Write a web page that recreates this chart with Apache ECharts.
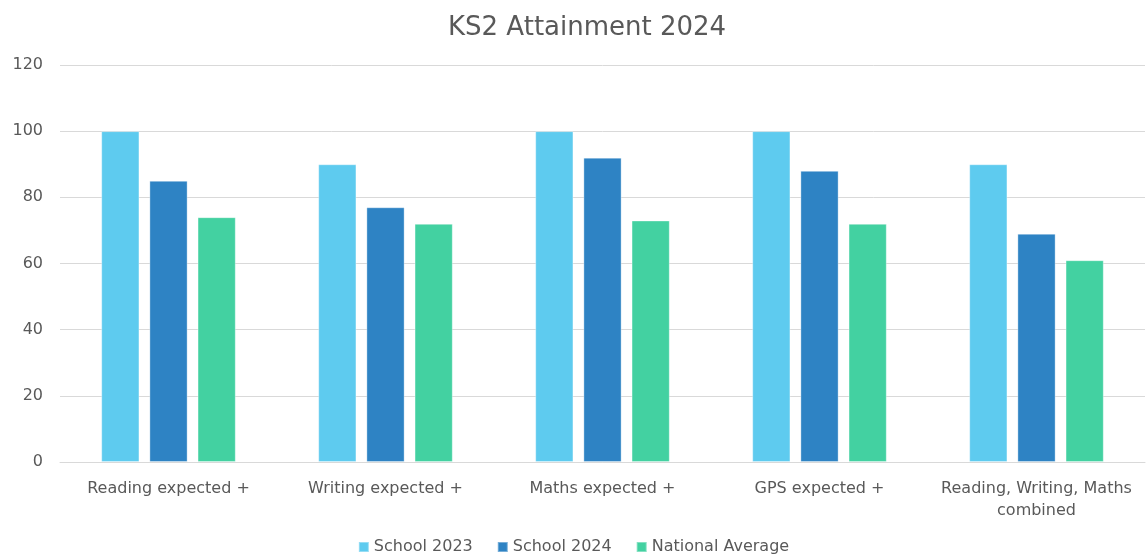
<!DOCTYPE html>
<html>
<head>
<meta charset="utf-8">
<title>KS2 Attainment 2024</title>
<script src="https://cdn.jsdelivr.net/npm/echarts@6/dist/echarts.min.js"></script>
<style>
  html, body { margin: 0; padding: 0; background: #fff; }
  #main { width: 1147px; height: 558px; }
</style>
</head>
<body>
<div id="main"></div>
<script>
// data
var categories = ['Reading expected +', 'Writing expected +', 'Maths expected +', 'GPS expected +', 'Reading, Writing, Maths\ncombined'];
var school2023 = [100, 90, 100, 100, 90];
var school2024 = [85, 77, 92, 88, 69];
var nationalAvg = [74, 72, 73, 72, 61];
var seriesNames = ['School 2023', 'School 2024', 'National Average'];
var colors = ['#5ECBEF', '#2E83C4', '#43D1A1'];

var font = 'DejaVu Sans';
var grey = '#595959';

var chart = echarts.init(document.getElementById('main'));

function bar(name, data, color) {
  return {
    name: name,
    type: 'bar',
    data: data,
    barGap: '26%',
    barCategoryGap: '38%',
    itemStyle: { color: color, borderColor: 'rgba(255,255,255,0.35)', borderWidth: 1 }
  };
}

chart.setOption({
  animation: false,
  color: colors,
  title: {
    text: 'KS2 Attainment 2024',
    left: 443,
    top: 10,
    textStyle: { fontFamily: font, fontSize: 26, fontWeight: 'normal', color: grey }
  },
  legend: {
    bottom: -2,
    left: 'center',
    icon: 'rect',
    itemWidth: 10,
    itemHeight: 10,
    itemGap: 24,
    textStyle: { fontFamily: font, fontSize: 16, color: grey }
  },
  grid: { left: 60, right: 2, top: 65, bottom: 96, containLabel: false },
  xAxis: {
    type: 'category',
    data: categories,
    axisLine: { lineStyle: { color: '#d9d9d9', width: 1 } },
    axisTick: { show: false },
    axisLabel: { fontFamily: font, fontSize: 16, color: grey, margin: 16, lineHeight: 22, interval: 0 }
  },
  yAxis: {
    type: 'value',
    min: 0,
    max: 120,
    interval: 20,
    axisLine: { show: false },
    axisTick: { show: false },
    splitLine: { lineStyle: { color: '#d9d9d9', width: 1 } },
    axisLabel: { fontFamily: font, fontSize: 16, color: grey, margin: 17 }
  },
  series: [
    bar(seriesNames[0], school2023, colors[0]),
    bar(seriesNames[1], school2024, colors[1]),
    bar(seriesNames[2], nationalAvg, colors[2])
  ]
});
</script>
</body>
</html>
